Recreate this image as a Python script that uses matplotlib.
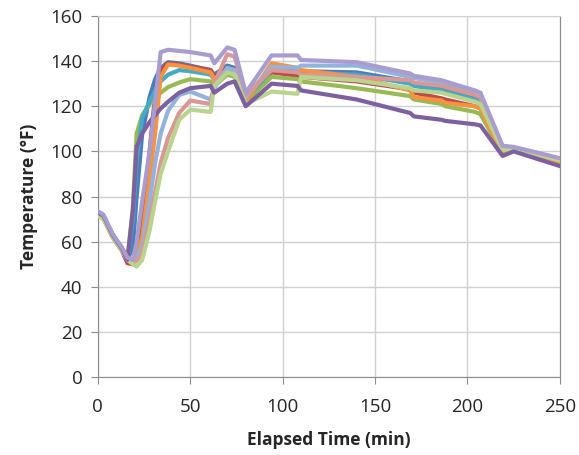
import matplotlib

matplotlib.use("Agg")
import matplotlib.pyplot as plt

# shared time grid (min)
TIME = [0, 3, 8, 13, 16, 19, 21, 24, 28, 31, 34, 38, 44, 50, 61, 63, 70, 74, 80,
        94, 108, 110, 140, 169, 171, 186, 188, 204, 207, 219, 225, 250]

# temperature (F) per sensor at TIME
blue = [72.5, 71, 63, 57, 52, 58, 80, 108, 124, 132, 137, 139.5, 139, 138, 136, 134, 138, 137, 123,
        137, 136, 135.5, 135, 131, 130, 128, 127.5, 124, 123, 101, 101, 95.5]
red = [72.5, 70.5, 62, 56, 50.5, 50, 55, 70, 100, 125, 136, 139, 138.5, 137.5, 136, 133, 137, 136, 122,
       135, 133.5, 133, 131, 127.5, 126, 123.5, 123, 120, 119, 99, 100.5, 95]
green = [72, 70.5, 62.5, 56.5, 52, 76, 108, 116, 121, 123.5, 126, 128.5, 130.5, 132, 131, 129, 134, 133, 122,
         133, 132, 131, 128, 124.5, 123, 121, 120, 117.5, 116.5, 99, 100.5, 94.5]
purple = [73, 71.5, 63, 57, 52, 74, 102, 108, 113, 116, 119, 122, 126, 128, 129, 126, 130, 131, 120,
          130, 129, 127, 123, 117, 115.5, 114, 113.5, 112, 111.5, 98, 100, 93.5]
aqua = [72.5, 71, 63, 57, 52, 70, 96, 115, 122, 127, 131, 134, 136, 135.5, 134, 132, 136, 135, 123,
        136, 135.5, 135, 134, 130, 129, 127, 126.5, 123, 122, 100.5, 101, 95.5]
orange = [72.5, 71, 63, 57, 52.5, 51, 54, 62, 88, 108, 133, 138.5, 138, 137, 135, 132, 136, 135, 122,
          139, 137, 136, 133, 127, 124, 122.5, 121.5, 120, 119, 98.5, 100.5, 95]
light_blue = [72.5, 71, 63, 57, 52.5, 51, 53, 58, 78, 95, 108, 118, 125, 126.5, 123, 128, 137, 136, 124,
              137.5, 137, 138, 138, 133, 132.5, 130.5, 130, 126, 125, 101.5, 101.5, 96.5]
pink = [72.5, 71, 63, 57, 52, 50.5, 51.5, 55, 70, 82, 95, 106, 117, 122.5, 121, 130, 143, 142, 125,
        136, 135, 134, 133, 131.5, 130.5, 129, 128.5, 125, 124, 101, 101.5, 96]
light_green = [71.5, 70, 62, 56, 52, 50, 49, 52, 65, 78, 90, 100, 114, 118.5, 117.5, 129, 135, 134, 121,
               126.5, 125.5, 133, 131.5, 128, 127, 126, 125.5, 122, 121, 100.5, 101.5, 96]
lavender = [73.5, 72, 63.5, 57.5, 53, 52, 60, 78, 100, 122, 144, 145, 144.5, 144, 142.5, 139, 146, 145, 126,
            142.5, 142.5, 140.5, 139.5, 134.5, 133.5, 131.5, 131, 127, 126, 102.5, 102, 97]

series = [
    (blue, "#4A7EBB"),
    (red, "#BE4B48"),
    (green, "#98B954"),
    (aqua, "#46AAC5"),
    (orange, "#F69240"),
    (light_blue, "#93B3DC"),
    (pink, "#D99795"),
    (light_green, "#B9D48E"),
    (purple, "#7D60A0"),
    (lavender, "#A99CCF"),
]

plt.rcParams["font.family"] = ["Open Sans", "DejaVu Sans"]

fig = plt.figure(figsize=(5.79, 4.55), dpi=100)
ax = fig.add_axes([0.169, 0.171, 0.798, 0.794])

for values, color in series:
    ax.plot(TIME, values, color=color, lw=3.0, solid_joinstyle="round", zorder=3)

ax.set_xlim(0, 250)
ax.set_ylim(0, 160)
ax.set_xticks(range(0, 251, 50))
ax.set_yticks(range(0, 161, 20))
ax.grid(True, color="#D0D0D0", lw=1)
ax.set_axisbelow(True)
for side in ("left", "bottom", "right"):
    ax.spines[side].set_color("#8C8C8C")
ax.spines["top"].set_color("#D0D0D0")
ax.tick_params(direction="out", length=5, color="#8C8C8C", labelsize=13.5, labelcolor="#262626", pad=6)
ax.tick_params(axis="x", pad=10)

ax.set_xlabel("Elapsed Time (min)", fontsize=12.5, fontweight="bold", color="#262626", labelpad=11)
ax.set_ylabel("Temperature (°F)", fontsize=12.5, fontweight="bold", color="#262626", labelpad=9)

fig.savefig("out.png", dpi=100)
